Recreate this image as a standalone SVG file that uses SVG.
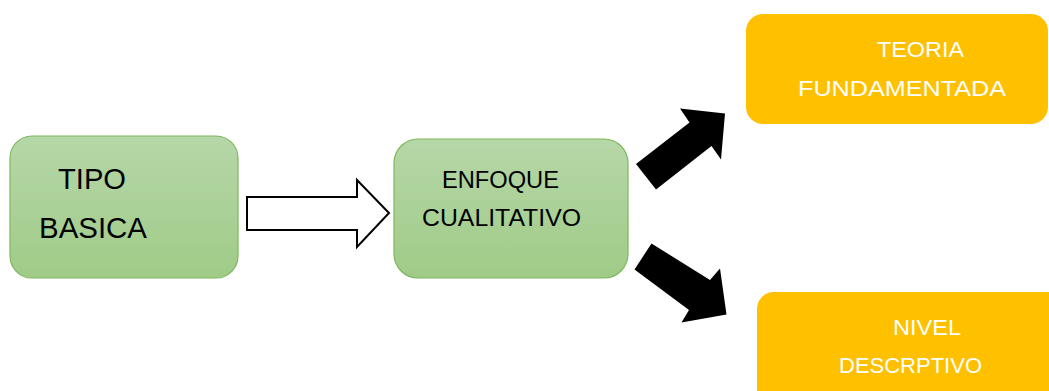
<svg xmlns="http://www.w3.org/2000/svg" width="1049" height="391" viewBox="0 0 1049 391">
<defs>
<linearGradient id="g" x1="0" y1="0" x2="0" y2="1">
<stop offset="0" stop-color="#b6d7a8"/>
<stop offset="1" stop-color="#9fcb87"/>
</linearGradient>
<style>
.green{fill:url(#g);stroke:#7fb75c;stroke-width:1.2}
.yellow{fill:#ffc000}
.t{font-family:"Liberation Sans",Arial,sans-serif}
.dark{fill:#000}
.light{fill:#fff}
.solid{fill:#000}
.hollow{fill:#fff;stroke:#000;stroke-width:2}
</style>
</defs>
<rect width="1049" height="391" fill="#fff"/>
<g id="connectors">
<polygon class="hollow" points="247,197 357,197 357,180 389,213 357,247 357,230 247,230"/>
<polygon class="solid" points="636,164 689.5,122.5 680,108.5 725,113.5 721,159.5 711.5,146 656,189.5"/>
<polygon class="solid" points="651.5,243.5 710,280 720,268.5 726.5,314.5 681.5,322.5 689,310 634.5,269.5"/>
</g>
<g id="tipo-basica">
<rect class="green" x="10" y="136" width="228" height="142" rx="22"/>
<text class="t dark" x="58" y="189" font-size="29" textLength="68" lengthAdjust="spacingAndGlyphs">TIPO</text>
<text class="t dark" x="39" y="238" font-size="29" textLength="108" lengthAdjust="spacingAndGlyphs">BASICA</text>
</g>
<g id="enfoque-cualitativo">
<rect class="green" x="394" y="139" width="234" height="139" rx="24"/>
<text class="t dark" x="442" y="188" font-size="23.5" textLength="117" lengthAdjust="spacingAndGlyphs">ENFOQUE</text>
<text class="t dark" x="422" y="226" font-size="23.5" textLength="159" lengthAdjust="spacingAndGlyphs">CUALITATIVO</text>
</g>
<g id="teoria-fundamentada">
<rect class="yellow" x="746" y="14" width="302" height="110" rx="17"/>
<text class="t light" x="877" y="57" font-size="22.5" textLength="87" lengthAdjust="spacingAndGlyphs">TEORIA</text>
<text class="t light" x="798" y="96" font-size="22.5" textLength="208" lengthAdjust="spacingAndGlyphs">FUNDAMENTADA</text>
</g>
<g id="nivel-descriptivo">
<rect class="yellow" x="757" y="292" width="310" height="120" rx="17"/>
<text class="t light" x="893" y="335" font-size="22.5" textLength="68" lengthAdjust="spacingAndGlyphs">NIVEL</text>
<text class="t light" x="839" y="373" font-size="22.5" textLength="143" lengthAdjust="spacingAndGlyphs">DESCRPTIVO</text>
</g>
</svg>
